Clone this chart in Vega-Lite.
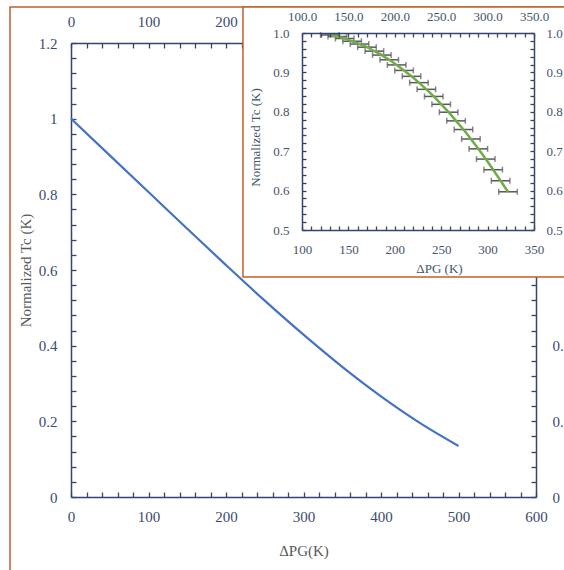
{
  "$schema": "https://vega.github.io/schema/vega-lite/v6.json",
  "width": 465,
  "height": 454,
  "autosize": "none",
  "padding": {"left": 71, "top": 43, "right": 28, "bottom": 73},
  "background": "white",
  "config": {
    "font": "Liberation Serif",
    "view": {"stroke": null},
    "axis": {
      "grid": false,
      "labelFont": "Liberation Serif",
      "titleFont": "Liberation Serif",
      "titleFontWeight": "normal",
      "labelOverlap": false,
      "labelFlush": false,
      "domainColor": "#34446f",
      "domainWidth": 1.5,
      "tickColor": "#34446f",
      "tickWidth": 1.3,
      "labelColor": "#3b4a70"
    }
  },
  "datasets": {
    "main": [
      {"dpg": 0, "tc": 1.0},
      {"dpg": 50, "tc": 0.903},
      {"dpg": 100, "tc": 0.806},
      {"dpg": 150, "tc": 0.709},
      {"dpg": 200, "tc": 0.613},
      {"dpg": 250, "tc": 0.519},
      {"dpg": 300, "tc": 0.429},
      {"dpg": 350, "tc": 0.344},
      {"dpg": 400, "tc": 0.266},
      {"dpg": 450, "tc": 0.196},
      {"dpg": 500, "tc": 0.135}
    ],
    "inset": [
      {"x": 130, "y": 0.995, "e": 10},
      {"x": 138, "y": 0.991, "e": 10},
      {"x": 146, "y": 0.986, "e": 10},
      {"x": 154, "y": 0.979, "e": 10},
      {"x": 162, "y": 0.972, "e": 10},
      {"x": 170, "y": 0.964, "e": 10},
      {"x": 178, "y": 0.954, "e": 10},
      {"x": 186, "y": 0.944, "e": 10},
      {"x": 194, "y": 0.932, "e": 10},
      {"x": 202, "y": 0.919, "e": 10},
      {"x": 210, "y": 0.905, "e": 10},
      {"x": 218, "y": 0.89, "e": 10},
      {"x": 226, "y": 0.874, "e": 10},
      {"x": 234, "y": 0.857, "e": 10},
      {"x": 242, "y": 0.839, "e": 10},
      {"x": 250, "y": 0.819, "e": 10},
      {"x": 258, "y": 0.799, "e": 10},
      {"x": 266, "y": 0.777, "e": 10},
      {"x": 274, "y": 0.755, "e": 10},
      {"x": 282, "y": 0.731, "e": 10},
      {"x": 290, "y": 0.706, "e": 10},
      {"x": 298, "y": 0.68, "e": 10},
      {"x": 306, "y": 0.653, "e": 10},
      {"x": 314, "y": 0.625, "e": 10},
      {"x": 322, "y": 0.597, "e": 10}
    ]
  },
  "layer": [
    {
      "layer": [
        {
          "data": {"name": "main"},
          "mark": {"type": "line", "color": "#4472C4", "strokeWidth": 2.2, "interpolate": "monotone"},
          "encoding": {
            "x": {
              "field": "dpg", "type": "quantitative",
              "scale": {"domain": [0, 600], "nice": false, "zero": false},
              "axis": {
                "orient": "bottom",
                "values": [0,20,40,60,80,100,120,140,160,180,200,220,240,260,280,300,320,340,360,380,400,420,440,460,480,500,520,540,560,580,600],
                "labelExpr": "datum.value % 100 === 0 ? format(datum.value, 'd') : ''",
                "tickSize": -5,
                "labelPadding": 17,
                "labelFontSize": 15,
                "title": "ΔPG(K)",
                "titleFontSize": 15,
                "titleColor": "#595959",
                "titleY": 53,
                "titleBaseline": "middle",
                "zindex": 0
              }
            },
            "y": {
              "field": "tc", "type": "quantitative",
              "scale": {"domain": [0, 1.2], "nice": false, "zero": false},
              "axis": {
                "orient": "left",
                "values": [0,0.04,0.08,0.12,0.16,0.2,0.24,0.28,0.32,0.36,0.4,0.44,0.48,0.52,0.56,0.6,0.64,0.68,0.72,0.76,0.8,0.84,0.88,0.92,0.96,1,1.04,1.08,1.12,1.16,1.2],
                "labelExpr": "abs(datum.value * 5 - round(datum.value * 5)) < 0.001 ? format(datum.value, '~g') : ''",
                "tickSize": -5,
                "labelPadding": 19,
                "labelFontSize": 15,
                "title": "Normalized Tc (K)",
                "titleFontSize": 15,
                "titleColor": "#595959",
                "titleX": -46,
                "titleY": 227,
                "titleBaseline": "middle",
                "zindex": 0
              }
            }
          }
        },
        {
          "data": {"name": "main"},
          "mark": {"type": "point", "opacity": 0},
          "encoding": {
            "x": {
              "field": "dpg", "type": "quantitative",
              "scale": {"domain": [0, 600], "nice": false, "zero": false},
              "axis": {
                "orient": "top",
                "values": [0,20,40,60,80,100,120,140,160,180,200,220,240,260,280,300,320,340,360,380,400,420,440,460,480,500,520,540,560,580,600],
                "labelExpr": "datum.value % 100 === 0 && datum.value <= 200 ? format(datum.value, 'd') : ''",
                "tickSize": -5,
                "labelPadding": 19,
                "labelFontSize": 15,
                "title": null,
                "zindex": 0
              }
            },
            "y": {
              "field": "tc", "type": "quantitative",
              "scale": {"domain": [0, 1.2], "nice": false, "zero": false},
              "axis": {
                "orient": "right",
                "values": [0,0.04,0.08,0.12,0.16,0.2,0.24,0.28,0.32,0.36,0.4,0.44,0.48,0.52,0.56,0.6,0.64,0.68,0.72,0.76,0.8,0.84,0.88,0.92,0.96,1,1.04,1.08,1.12,1.16,1.2],
                "labelExpr": "abs(datum.value * 5 - round(datum.value * 5)) < 0.001 && datum.value < 0.5 ? format(datum.value, '~g') : ''",
                "tickSize": -5,
                "labelPadding": 21,
                "labelFontSize": 15,
                "title": null,
                "zindex": 0
              }
            }
          }
        },
        {
          "data": {"values": [{}]},
          "mark": {"type": "rect", "filled": false, "stroke": "#C0622A", "strokeWidth": 1.5},
          "encoding": {
            "x": {"datum": -78.7, "type": "quantitative", "axis": null},
            "x2": {"datum": 700},
            "y": {"datum": 1.295, "type": "quantitative", "axis": null},
            "y2": {"datum": -0.3}
          }
        }
      ],
      "resolve": {"axis": {"x": "independent", "y": "independent"}}
    },
    {
      "layer": [
        {
          "data": {"values": [{}]},
          "mark": {"type": "rect", "fill": "white", "stroke": "#C0622A", "strokeWidth": 1.5},
          "encoding": {
            "x": {"datum": 36.4, "type": "quantitative", "scale": {"domain": [100, 350], "range": [231, 463], "nice": false, "zero": false}, "axis": null},
            "x2": {"datum": 420},
            "y": {"datum": 1.066, "type": "quantitative", "scale": {"domain": [0.5, 1.0], "range": [187, -10], "nice": false, "zero": false}, "axis": null},
            "y2": {"datum": 0.381}
          }
        },
        {
          "data": {"name": "inset"},
          "mark": {"type": "errorbar", "ticks": {"size": 6}, "color": "#595959", "thickness": 1.5},
          "encoding": {
            "x": {"field": "x", "type": "quantitative", "scale": {"domain": [100, 350], "range": [231, 463], "nice": false, "zero": false}, "axis": null},
            "xError": {"field": "e"},
            "y": {"field": "y", "type": "quantitative", "scale": {"domain": [0.5, 1.0], "range": [187, -10], "nice": false, "zero": false}, "axis": null}
          }
        },
        {
          "data": {"name": "inset"},
          "mark": {"type": "line", "color": "#70AD47", "strokeWidth": 2.5, "interpolate": "monotone"},
          "encoding": {
            "x": {
              "field": "x", "type": "quantitative",
              "scale": {"domain": [100, 350], "range": [231, 463], "nice": false, "zero": false},
              "axis": {
                "orient": "bottom",
                "offset": -267,
                "values": [100,110,120,130,140,150,160,170,180,190,200,210,220,230,240,250,260,270,280,290,300,310,320,330,340,350],
                "labelExpr": "datum.value % 50 === 0 ? format(datum.value, 'd') : ''",
                "tickSize": -4,
                "labelPadding": 17,
                "labelFontSize": 13,
                "labelColor": "#44546A",
                "title": "ΔPG (K)",
                "titleFontSize": 13,
                "titleColor": "#44546A",
                "titleX": 368,
                "titleY": 38,
                "titleBaseline": "middle",
                "zindex": 2
              }
            },
            "y": {
              "field": "y", "type": "quantitative",
              "scale": {"domain": [0.5, 1.0], "range": [187, -10], "nice": false, "zero": false},
              "axis": {
                "orient": "left",
                "offset": -231,
                "values": [0.5,0.52,0.54,0.56,0.58,0.6,0.62,0.64,0.66,0.68,0.7,0.72,0.74,0.76,0.78,0.8,0.82,0.84,0.86,0.88,0.9,0.92,0.94,0.96,0.98,1.0],
                "labelExpr": "abs(datum.value * 10 - round(datum.value * 10)) < 0.001 ? format(datum.value, '.1f') : ''",
                "tickSize": -4,
                "labelPadding": 17,
                "labelFontSize": 13,
                "labelColor": "#44546A",
                "title": "Normalized Tc (K)",
                "titleFontSize": 13,
                "titleColor": "#44546A",
                "titleX": -47,
                "titleY": 94,
                "titleBaseline": "middle",
                "zindex": 2
              }
            }
          }
        },
        {
          "data": {"name": "inset"},
          "mark": {"type": "point", "opacity": 0},
          "encoding": {
            "x": {
              "field": "x", "type": "quantitative",
              "scale": {"domain": [100, 350], "range": [231, 463], "nice": false, "zero": false},
              "axis": {
                "orient": "top",
                "offset": 10,
                "values": [100,110,120,130,140,150,160,170,180,190,200,210,220,230,240,250,260,270,280,290,300,310,320,330,340,350],
                "labelExpr": "datum.value % 50 === 0 ? format(datum.value, '.1f') : ''",
                "tickSize": -4,
                "labelPadding": 14,
                "labelFontSize": 13,
                "labelColor": "#44546A",
                "title": null,
                "zindex": 2
              }
            },
            "y": {
              "field": "y", "type": "quantitative",
              "scale": {"domain": [0.5, 1.0], "range": [187, -10], "nice": false, "zero": false},
              "axis": {
                "orient": "right",
                "offset": -2,
                "values": [0.5,0.52,0.54,0.56,0.58,0.6,0.62,0.64,0.66,0.68,0.7,0.72,0.74,0.76,0.78,0.8,0.82,0.84,0.86,0.88,0.9,0.92,0.94,0.96,0.98,1.0],
                "labelExpr": "abs(datum.value * 10 - round(datum.value * 10)) < 0.001 ? format(datum.value, '.1f') : ''",
                "tickSize": -4,
                "labelPadding": 16,
                "labelFontSize": 13,
                "labelColor": "#44546A",
                "title": null,
                "zindex": 2
              }
            }
          }
        }
      ],
      "resolve": {"axis": {"x": "independent", "y": "independent"}}
    }
  ],
  "resolve": {
    "scale": {"x": "independent", "y": "independent"},
    "axis": {"x": "independent", "y": "independent"}
  }
}
